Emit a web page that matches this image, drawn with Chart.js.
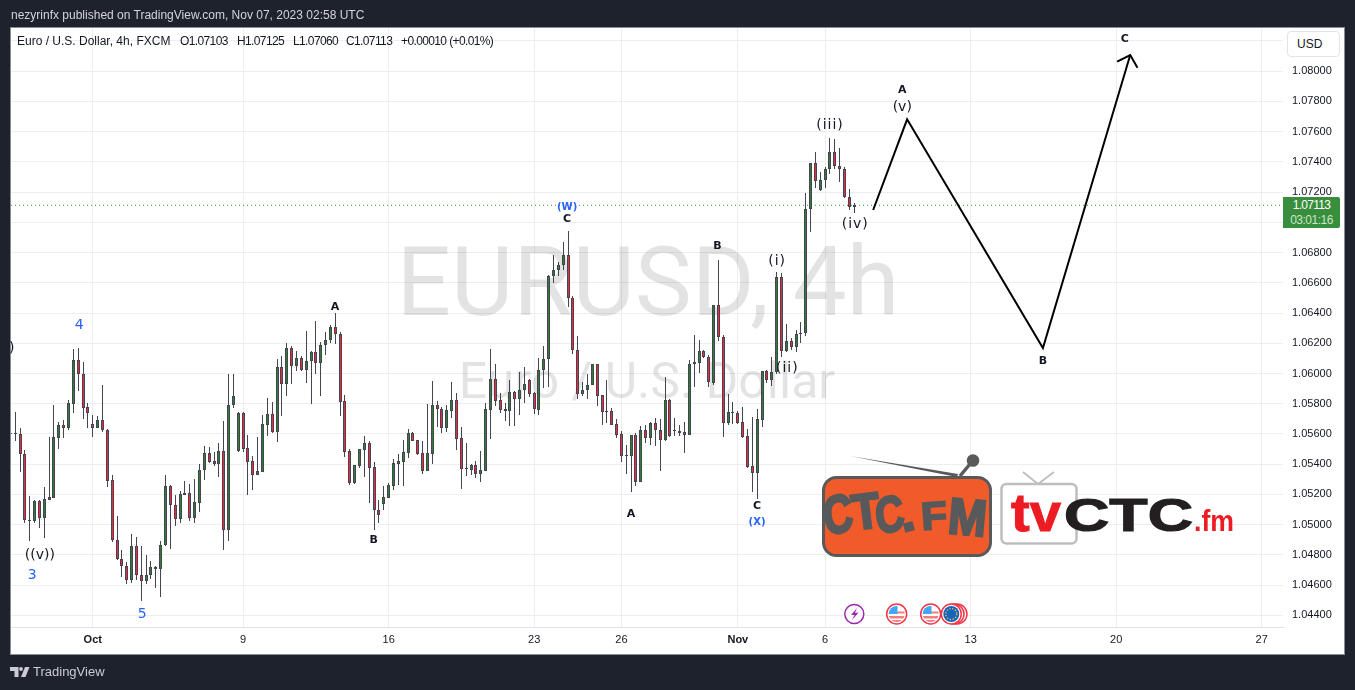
<!DOCTYPE html>
<html><head><meta charset="utf-8"><title>EURUSD 4h</title>
<script src="https://cdn.jsdelivr.net/npm/chart.js@4/dist/chart.umd.min.js"></script>
<style>
html,body{margin:0;padding:0;background:#1e222d;width:1355px;height:690px;overflow:hidden;font-family:"Liberation Sans",Arial,sans-serif}
#frame{position:absolute;left:10px;top:27px;width:1335px;height:628px;box-sizing:border-box;background:#fff;border:1px solid #8a8d96}
#c{position:absolute;left:0;top:0}
.t{position:absolute;white-space:pre;font-size:12px;line-height:14px;color:#131722}
.n{letter-spacing:-.62px}
#usd{position:absolute;left:1287px;top:31px;width:53px;height:26px;box-sizing:border-box;background:#fff;border:1px solid #e0e3eb;border-radius:4px;font-size:12px;line-height:24px;color:#131722;padding-left:9px}
#badge{position:absolute;left:1283px;top:197px;width:57px;height:31px;background:#388e3c;border-radius:0 2px 2px 0;color:#fff;font-size:12px;line-height:15px;text-align:center;padding-top:1px;box-sizing:border-box;letter-spacing:-.7px}
#badge span{color:#c8e6c9;display:block;letter-spacing:-.5px}
svg{position:absolute;left:0;top:0}
</style></head><body>
<div id="frame"></div>
<canvas id="c" width="1355" height="690"></canvas>
<div class="t" style="left:11px;top:8px;color:#d1d4dc">nezyrinfx published on TradingView.com, Nov 07, 2023 02:58 UTC</div>
<div class="t" style="left:17px;top:34px">Euro / U.S. Dollar, 4h, FXCM</div>
<div class="t n" style="left:180px;top:34px">O1.07103</div>
<div class="t n" style="left:237px;top:34px">H1.07125</div>
<div class="t n" style="left:293px;top:34px">L1.07060</div>
<div class="t n" style="left:346px;top:34px">C1.07113</div>
<div class="t n" style="left:401px;top:34px">+0.00010 (+0.01%)</div>
<div id="usd">USD</div>
<div id="badge">1.07113<span>03:01:16</span></div>
<div class="t" style="left:33px;top:665px;color:#c9ccd4;font-size:13px">TradingView</div>
<svg width="1355" height="690" viewBox="0 0 1355 690" font-family="Liberation Sans">
  <defs>
    <clipPath id="f1"><circle cx="896.7" cy="614" r="8"/></clipPath>
    <clipPath id="f2"><circle cx="930.7" cy="614" r="8"/></clipPath>
  </defs>
  <path d="M10 667h8.5v10h-4v-6H10zM25 667h4.5l-4 10H21z" fill="#c9ccd4"/><circle cx="21" cy="669" r="1.9" fill="#c9ccd4"/>
  <path d="M850 456 L958 474 L957 477 Z" fill="#58595b"/>
  <path d="M960 476 L970 464" stroke="#58595b" stroke-width="3.5"/>
  <circle cx="973" cy="460.500" r="6.300" fill="#58595b"/>
  <rect x="823.500" y="477.500" width="167" height="78" rx="13" fill="#f15a29" stroke="#58595b" stroke-width="3"/>
  <g fill="#58595b" stroke="#58595b" stroke-width="2.5" font-weight="bold" font-size="50" font-family="Liberation Sans">
    <text transform="translate(826,536) rotate(-14) skewX(-6) scale(.82,1.06)">C</text>
    <text transform="translate(854,530) rotate(-7) scale(.92,1)">T</text>
    <text transform="translate(878,535) rotate(-14) skewX(-6) scale(.8,1)">C</text>
    <text transform="translate(903,532) rotate(-15) scale(1.1,1)" font-size="46">.</text>
    <text transform="translate(922,530) rotate(-4) scale(.85,.78)">F</text>
    <text transform="translate(947,533) rotate(5) scale(.92,1.02)">M</text>
  </g>
  <path d="M1023 472 L1038 484 L1054 472" fill="none" stroke="#bcbec0" stroke-width="1.800"/>
  <rect x="1001.500" y="484" width="75" height="59.500" rx="5" fill="#fff" stroke="#bcbec0" stroke-width="2.500"/>
  <text x="1011" y="531" font-size="54" font-weight="bold" fill="#ed1c24" textLength="50" lengthAdjust="spacingAndGlyphs" stroke="#ed1c24" stroke-width="1">tv</text>
  <text x="1064" y="531" font-size="47" font-weight="bold" fill="#231f20" stroke="#231f20" stroke-width="1.200" textLength="129" lengthAdjust="spacingAndGlyphs">CTC</text>
  <text x="1194" y="531" font-size="29" font-weight="bold" fill="#ed1c24" textLength="40" lengthAdjust="spacingAndGlyphs">.fm</text>
  <circle cx="854.300" cy="614" r="9.500" fill="#fff" stroke="#9c27b0" stroke-width="1.500"/>
  <path d="M857 608 L851 615 L854.500 615 L852 620 L858.500 612.800 L855 612.800 Z" fill="#9c27b0"/>
  <circle cx="896.700" cy="614" r="10" fill="#fff" stroke="#f23645" stroke-width="1.500"/>
  <g clip-path="url(#f1)"><rect x="888" y="606" width="18" height="16" fill="#fff"/><rect x="888" y="616" width="18" height="2.500" fill="#f77c80"/><rect x="888" y="620" width="18" height="3" fill="#f77c80"/><rect x="888" y="611.500" width="18" height="2" fill="#f77c80"/><rect x="888" y="606" width="9.500" height="8" fill="#42a5f5"/></g>
  <circle cx="957" cy="614" r="10" fill="#fff" stroke="#f23645" stroke-width="1.500"/>
  <circle cx="954" cy="614" r="10" fill="#fff" stroke="#f23645" stroke-width="1.500"/>
  <circle cx="930.700" cy="614" r="10" fill="#fff" stroke="#f23645" stroke-width="1.500"/>
  <g clip-path="url(#f2)"><rect x="922" y="606" width="18" height="16" fill="#fff"/><rect x="922" y="616" width="18" height="2.500" fill="#f77c80"/><rect x="922" y="620" width="18" height="3" fill="#f77c80"/><rect x="922" y="611.500" width="18" height="2" fill="#f77c80"/><rect x="922" y="606" width="9.500" height="8" fill="#42a5f5"/></g>
  <circle cx="951.300" cy="614" r="10" fill="#fff" stroke="#f23645" stroke-width="1.500"/>
  <circle cx="951.300" cy="614" r="8" fill="#1565c0"/>
  <circle cx="951.300" cy="614" r="5.500" fill="none" stroke="#fbc02d" stroke-width="1.300" stroke-dasharray="1.300 1.600"/>
</svg>
<script>
const opens=[1.05600,1.05597,1.05597,1.05465,1.05030,1.05021,1.05157,1.05041,1.05164,1.05179,
1.05575,1.05657,1.05641,1.05800,1.06092,1.06000,1.05776,1.05663,1.05641,1.05690,
1.05624,1.05294,1.04898,1.04772,1.04726,1.04634,1.04858,1.04667,1.04625,1.04665,
1.04720,1.04706,1.04865,1.05254,1.05129,1.05036,1.05208,1.05208,1.05041,1.05146,
1.05360,1.05472,1.05419,1.05404,1.05485,1.04968,1.05793,1.05487,1.05736,1.05505,
1.05419,1.05331,1.05351,1.05661,1.05729,1.05615,1.06046,1.05932,1.06172,1.06051,
1.06106,1.06024,1.06086,1.06145,1.06070,1.06189,1.06222,1.06310,1.06264,1.05815,
1.05485,1.05278,1.05391,1.05496,1.05538,1.05380,1.05096,1.05140,1.05179,1.05259,
1.05404,1.05417,1.05476,1.05604,1.05558,1.05472,1.05358,1.05470,1.05795,1.05767,
1.05641,1.05754,1.05828,1.05571,1.05373,1.05364,1.05393,1.05338,1.05358,1.05760,
1.05967,1.05822,1.05762,1.05754,1.05881,1.05833,1.05892,1.05954,1.05870,1.05760,
1.06024,1.06097,1.06645,1.06686,1.06719,1.06785,1.06502,1.06158,1.05866,1.05892,
1.05925,1.06062,1.05855,1.05749,1.05749,1.05663,1.05597,1.05459,1.05457,1.05591,
1.05285,1.05624,1.05575,1.05670,1.05624,1.05558,1.05828,1.05624,1.05622,1.05613,
1.05595,1.06066,1.06070,1.06152,1.06112,1.05936,1.06455,1.06244,1.05674,1.05736,
1.05736,1.05677,1.05584,1.05386,1.05340,1.05694,1.06020,1.05958,1.06007,1.06640,
1.06150,1.06218,1.06176,1.06264,1.06268,1.07089,1.07393,1.07212,1.07280,1.07351,
1.07465,1.07373,1.07353,1.07168,1.07103];
const closes=[1.05604,1.05604,1.05465,1.05028,1.05021,1.05155,1.05041,1.05168,1.05182,1.05578,
1.05657,1.05641,1.05802,1.06092,1.05998,1.05773,1.05740,1.05641,1.05692,1.05624,
1.05292,1.04896,1.04772,1.04726,1.04634,1.04858,1.04667,1.04625,1.04667,1.04720,
1.04706,1.04865,1.05254,1.05127,1.05036,1.05201,1.05199,1.05041,1.05149,1.05360,
1.05472,1.05417,1.05404,1.05485,1.04968,1.05795,1.05848,1.05736,1.05503,1.05417,
1.05331,1.05353,1.05663,1.05729,1.05613,1.06046,1.05932,1.06172,1.06051,1.06106,
1.06024,1.06086,1.06145,1.06070,1.06191,1.06224,1.06310,1.06264,1.05813,1.05483,
1.05278,1.05393,1.05498,1.05538,1.05377,1.05096,1.05067,1.05182,1.05261,1.05406,
1.05419,1.05479,1.05604,1.05556,1.05468,1.05358,1.05472,1.05795,1.05767,1.05641,
1.05756,1.05828,1.05569,1.05371,1.05366,1.05393,1.05338,1.05360,1.05762,1.05967,
1.05820,1.05760,1.05754,1.05881,1.05833,1.05894,1.05934,1.05866,1.05762,1.06026,
1.06099,1.06647,1.06686,1.06719,1.06785,1.06499,1.06156,1.05866,1.05894,1.05927,
1.06062,1.05853,1.05747,1.05745,1.05661,1.05595,1.05457,1.05454,1.05591,1.05285,
1.05624,1.05575,1.05670,1.05624,1.05558,1.05828,1.05586,1.05628,1.05608,1.05595,
1.06066,1.06073,1.06152,1.06110,1.05941,1.06455,1.06242,1.05674,1.05743,1.05743,
1.05674,1.05580,1.05382,1.05340,1.05696,1.06020,1.05958,1.06007,1.06640,1.06150,
1.06218,1.06176,1.06264,1.06271,1.07089,1.07393,1.07272,1.07280,1.07353,1.07465,
1.07371,1.07351,1.07168,1.07102,1.07113];
const highs=[1.05703,1.05743,1.05637,1.05494,1.05190,1.05160,1.05164,1.05250,1.05580,1.05789,
1.05679,1.05692,1.05828,1.06165,1.06172,1.06073,1.05804,1.05723,1.05718,1.05921,
1.05630,1.05327,1.05058,1.04834,1.04755,1.04940,1.04920,1.04860,1.04801,1.04761,
1.04724,1.04891,1.05327,1.05263,1.05197,1.05223,1.05289,1.05270,1.05303,1.05402,
1.05520,1.05514,1.05479,1.05540,1.05683,1.06000,1.05996,1.05743,1.05743,1.05593,
1.05454,1.05580,1.05725,1.05837,1.05809,1.06095,1.06114,1.06200,1.06185,1.06147,
1.06114,1.06284,1.06147,1.06350,1.06207,1.06277,1.06319,1.06400,1.06277,1.05861,
1.05501,1.05395,1.05503,1.05586,1.05551,1.05413,1.05164,1.05256,1.05278,1.05432,
1.05468,1.05560,1.05633,1.05615,1.05560,1.05553,1.05798,1.05949,1.05817,1.05780,
1.05791,1.05941,1.05870,1.05644,1.05540,1.05399,1.05421,1.05485,1.05802,1.06165,
1.06066,1.05868,1.05804,1.05954,1.05886,1.06007,1.06042,1.05967,1.05879,1.06106,
1.06185,1.06649,1.06781,1.06735,1.06871,1.06944,1.06515,1.06246,1.05941,1.05998,
1.06066,1.06066,1.05855,1.05954,1.05769,1.05699,1.05617,1.05525,1.05591,1.05604,
1.05650,1.05657,1.05677,1.05703,1.05699,1.05974,1.05833,1.05703,1.05659,1.05681,
1.06088,1.06253,1.06220,1.06158,1.06125,1.06455,1.06748,1.06257,1.05864,1.05809,
1.05751,1.05778,1.05630,1.05710,1.05765,1.06020,1.06022,1.06108,1.06673,1.06664,
1.06326,1.06233,1.06286,1.06339,1.07195,1.07395,1.07465,1.07335,1.07364,1.07558,
1.07553,1.07494,1.07368,1.07221,1.07125];
const lows=[1.05571,1.05556,1.05351,1.05014,1.04889,1.05014,1.04975,1.04915,1.05160,1.05177,
1.05503,1.05571,1.05628,1.05740,1.05886,1.05701,1.05641,1.05582,1.05637,1.05615,
1.05252,1.04887,1.04768,1.04651,1.04605,1.04612,1.04632,1.04493,1.04605,1.04638,
1.04579,1.04519,1.04858,1.04836,1.04988,1.05012,1.05199,1.05021,1.05008,1.05085,
1.05298,1.05410,1.05391,1.05318,1.04830,1.04889,1.05771,1.05481,1.05483,1.05199,
1.05230,1.05329,1.05349,1.05589,1.05604,1.05549,1.05718,1.05853,1.05930,1.06018,
1.06018,1.05938,1.05800,1.05998,1.05850,1.06123,1.06202,1.06194,1.05718,1.05450,
1.05263,1.05272,1.05377,1.05318,1.05146,1.04962,1.05014,1.05094,1.05177,1.05232,
1.05263,1.05256,1.05443,1.05553,1.05461,1.05338,1.05355,1.05402,1.05646,1.05606,
1.05615,1.05707,1.05496,1.05239,1.05322,1.05331,1.05311,1.05285,1.05355,1.05569,
1.05787,1.05740,1.05688,1.05655,1.05655,1.05727,1.05806,1.05844,1.05732,1.05723,
1.05903,1.05912,1.06598,1.06642,1.06684,1.06440,1.06128,1.05833,1.05853,1.05833,
1.05921,1.05787,1.05661,1.05674,1.05659,1.05575,1.05417,1.05338,1.05219,1.05259,
1.05283,1.05538,1.05525,1.05520,1.05358,1.05556,1.05582,1.05586,1.05586,1.05476,
1.05591,1.05910,1.06002,1.06106,1.05912,1.05925,1.06216,1.05582,1.05661,1.05666,
1.05668,1.05573,1.05377,1.05217,1.05171,1.05648,1.05938,1.05916,1.06000,1.06110,
1.06143,1.06154,1.06143,1.06202,1.06249,1.06935,1.07225,1.07210,1.07228,1.07318,
1.07351,1.07265,1.07162,1.07080,1.07060];
const waveBars=[177.9,184.9,212.9,230.9];
const wavePrices=[1.07082,1.07682,1.06169,1.08107];
const arrowBars=[228.2,230.9,232.4];
const arrowPrices=[1.08063,1.08107,1.08023];
const lastPrice=1.07113;
const yTicks=[1.044,1.046,1.048,1.05,1.052,1.054,1.056,1.058,1.06,1.062,1.064,1.066,1.068,1.07,1.072,1.074,1.076,1.078,1.08,1.082];
const xTickBars=[17,48,78,108,126,150,168,198,228,258];
const xTickLabels=['Oct','9','16','23','26','Nov','6','13','20','27'];
const boldTicks=['Oct','Nov'];
const waveTexts=['A','B','(W)','C','A','B','C','(X)','(i)','(ii)','(iii)','(iv)','(v)','A','B','C','4','3','5','((v))',')'];
const waveTextBars=[66.95,74.9,114.8,114.8,127.98,145.8,153.96,153.96,158.1,160.2,169,174.2,183.9,183.9,212.9,229.8,14.2,4.5,27.2,6.1,0.3];
const waveTextPrices=[1.0644,1.04898,1.07102,1.07022,1.0507,1.06844,1.05123,1.05017,1.06744,1.06036,1.07644,1.06989,1.07763,1.07876,1.06083,1.08213,1.06321,1.04667,1.04409,1.04799,1.06169];
const blueBold=['(W)','(X)'];
const blueBig=['3','4','5'];
const blackBold=['A','B','C'];

const GREEN='#2e7d32',RED='#f7253f',EDGE='#434651';
const bars=opens.map((_,i)=>i);
const crisp={id:'crisp',beforeDatasetsDraw(ch){
  ch.getSortedVisibleDatasetMetas().forEach(m=>{ if(m.type!=='bar')return;
    m.data.forEach(el=>{
      el.x=Math.floor(el.x)+0.5;
      const a=Math.round(el.y),b=Math.round(el.base);
      el.y=a; el.base=(a===b)?a+1:b;
    });
  });
}};
const watermark={id:'watermark',beforeDatasetsDraw(ch){
  const c=ch.ctx;c.save();c.fillStyle='rgba(0,0,0,0.11)';c.textAlign='center';c.textBaseline='alphabetic';
  c.font='96px Roboto';c.fillText('EURUSD, 4h',648,315);
  c.font='50px Roboto';c.fillText('Euro / U.S. Dollar',647,398);
  c.restore();
}};
const labels={id:'labels',afterDatasetsDraw(ch){
  const c=ch.ctx,x=ch.scales.x,y=ch.scales.y;c.save();c.textAlign='center';c.textBaseline='middle';
  waveTexts.forEach((t,i)=>{
    c.letterSpacing='0px';
    if(blueBold.includes(t)){c.font='bold 10px "DejaVu Sans"';c.fillStyle='#2962ff';}
    else if(blueBig.includes(t)){c.font='14px "DejaVu Sans"';c.fillStyle='#2962ff';}
    else if(blackBold.includes(t)){c.font='bold 11px "DejaVu Sans"';c.fillStyle='#131722';}
    else{c.font='14px "DejaVu Sans"';c.fillStyle='#131722';if(t.includes('i'))c.letterSpacing='1px';}
    c.fillText(t,x.getPixelForValue(waveTextBars[i]),y.getPixelForValue(waveTextPrices[i]));
  });
  c.restore();
}};
new Chart(document.getElementById('c'),{
  type:'bar',
  data:{datasets:[
    {type:'line',order:0,data:waveBars.map((b,i)=>({x:b,y:wavePrices[i]})),borderColor:'#000',borderWidth:2,pointRadius:0,tension:0,clip:false,borderJoinStyle:'miter'},
    {type:'line',order:0,data:arrowBars.map((b,i)=>({x:b,y:arrowPrices[i]})),borderColor:'#000',borderWidth:2,pointRadius:0,tension:0,clip:false},
    {order:1,grouped:false,data:bars.map(i=>({x:i,y:[opens[i],closes[i]]})),barThickness:3,borderWidth:1,borderColor:EDGE,borderSkipped:false,inflateAmount:0,
     backgroundColor:bars.map(i=>closes[i]>=opens[i]?GREEN:RED)},
    {order:2,grouped:false,data:bars.map(i=>({x:i,y:[lows[i],highs[i]]})),barThickness:1,borderWidth:0,inflateAmount:0,backgroundColor:EDGE},
    {type:'line',order:3,data:[{x:0.14,y:lastPrice},{x:262.4,y:lastPrice}],borderColor:'#388e3c',borderWidth:1,borderDash:[1,3],pointRadius:0}
  ]},
  options:{
    responsive:false,animation:false,devicePixelRatio:1,
    layout:{padding:{left:11,right:12,top:28,bottom:36}},
    plugins:{legend:{display:false},tooltip:{enabled:false},title:{display:false}},
    scales:{
      x:{type:'linear',min:0.14,max:262.4,offset:false,
        afterFit(s){s.height=27},
        afterBuildTicks(s){s.ticks=xTickBars.map(v=>({value:v}))},
        grid:{color:'#eceef2',offset:false,drawTicks:false},
        border:{color:'#e0e3eb',width:1},
        ticks:{autoSkip:false,maxRotation:0,padding:6,color:'#131722',
          font:c=>({family:'Liberation Sans',size:11,weight:boldTicks.includes(xTickLabels[c.index])?'bold':'normal'}),
          callback:(v,i)=>xTickLabels[i]}},
      y:{type:'linear',position:'right',min:1.04323,max:1.08286,
        afterFit(s){s.width=60},
        afterBuildTicks(s){s.ticks=yTicks.map(v=>({value:v}))},
        grid:{color:'#eceef2',drawTicks:false},
        border:{display:false},
        ticks:{autoSkip:false,padding:9,color:'#131722',align:'center',
          font:{family:'Liberation Sans',size:11},
          callback:v=>v>1.081?'':v.toFixed(5)}}
    }
  },
  plugins:[watermark,crisp,labels]
});
</script>
</body></html>
